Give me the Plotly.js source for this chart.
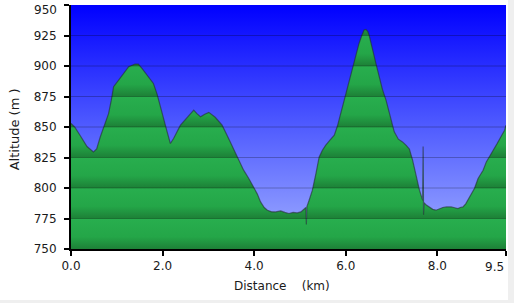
<!DOCTYPE html>
<html>
<head>
<meta charset="utf-8">
<script src="https://cdn.plot.ly/plotly-3.0.1.min.js"></script>
<style>
  html, body { margin: 0; padding: 0; background: #efefef; }
  #chart { width: 508px; height: 300px; background: #ffffff; }
</style>
</head>
<body>
<div id="chart"></div>
<script>
// ---- data ----
const distanceKm = [
  0.00, 0.08, 0.20, 0.35, 0.49, 0.56, 0.64, 0.72, 0.82, 0.88,
  0.93, 1.04, 1.15, 1.26, 1.40, 1.47, 1.55, 1.66, 1.80, 1.88,
  1.95, 2.02, 2.10, 2.17, 2.24, 2.39, 2.55, 2.68, 2.75, 2.83,
  2.92, 3.01, 3.15, 3.30, 3.45, 3.56, 3.67, 3.77, 3.88, 3.99,
  4.07, 4.14, 4.22, 4.29, 4.38, 4.47, 4.58, 4.67, 4.76, 4.85,
  4.94, 5.02, 5.09, 5.13, 5.14, 5.15, 5.20, 5.27, 5.35, 5.42,
  5.49, 5.56, 5.65, 5.75, 5.82, 5.89, 5.96, 6.04, 6.11, 6.18,
  6.24, 6.29, 6.35, 6.40, 6.44, 6.48, 6.51, 6.55, 6.59, 6.66,
  6.73, 6.80, 6.88, 6.97, 7.06, 7.15, 7.24, 7.32, 7.39, 7.46,
  7.54, 7.61, 7.68, 7.69, 7.70, 7.71, 7.76, 7.83, 7.90, 7.97,
  8.05, 8.12, 8.20, 8.30, 8.38, 8.45, 8.50, 8.56, 8.62, 8.67,
  8.74, 8.81, 8.89, 8.95, 9.00, 9.07, 9.15, 9.22, 9.30, 9.36,
  9.42, 9.47, 9.50
];
const altitudeM = [
  853, 850, 843, 834, 829.6, 832, 842, 850, 861, 872,
  883, 888.5, 894, 899.4, 901.6, 901.6, 898, 892.5, 885.7, 877,
  866.5, 857, 846, 836.5, 840.6, 851.5, 858, 863.8, 861, 858.3,
  860.5, 862, 858, 851.5, 840, 831, 822, 814.6, 808, 800.9,
  795, 788.6, 784, 781.8, 780.5, 780.4, 781.2, 780, 779.1, 780,
  779.6, 780.4, 783.2, 784, 770, 784.5, 790, 798, 812, 825.5,
  831, 835, 839, 843.3, 851, 861, 872, 883, 893, 902,
  910, 918.5, 925, 929.5, 930, 928.5, 925.4, 920, 913, 902,
  891, 881, 872, 858, 846, 840, 837.8, 835, 832, 822.8,
  809, 798.2, 790, 834, 778, 788, 786, 784.5, 782.5, 781.8,
  783, 784, 784.5, 784.5, 783.8, 783.2, 784, 784.5, 787, 790,
  795, 799.6, 807.8, 811, 814.6, 821.4, 826, 831, 836, 840.6,
  844, 847.4, 851.5
];
const xTickVals = [0, 2, 4, 6, 8, 9.5];
const xTickText = ["0.0", "2.0", "4.0", "6.0", "8.0", "9.5"];
const yTickVals = [750, 775, 800, 825, 850, 875, 900, 925, 950];
const yTickText = ["750", "775", "800", "825", "850", "875", "900", "925", "950"];
const xRange = [0, 9.5];
const yRange = [750, 950];
const xTitle = "Distance\u00a0\u00a0\u00a0\u00a0(km)";
const yTitle = "Altitude (m )";

// ---- styling helpers ----
const darkGreen = "rgb(29,128,55)";
const brightGreen = "rgb(36,166,72)";
const topGreen = "rgb(40,174,78)";
const nBands = yTickVals.length - 1;
const greenScale = [];
for (let k = 0; k < nBands; k++) {
  const p0 = k / nBands, w = 1 / nBands;
  greenScale.push([k === 0 ? 0 : p0 + 0.0005, darkGreen]);
  greenScale.push([p0 + 0.4 * w, brightGreen]);
  greenScale.push([p0 + w - 0.0005, topGreen]);
}
greenScale[greenScale.length - 1][0] = 1;

const bgTrace = {
  x: xRange, y: [yRange[1], yRange[1]],
  type: "scatter", mode: "none", fill: "tozeroy",
  fillgradient: {
    type: "vertical", start: yRange[0], stop: yRange[1],
    colorscale: [[0, "rgb(162,176,255)"], [0.5, "rgb(80,92,255)"], [1, "rgb(0,0,255)"]]
  },
  hoverinfo: "skip", showlegend: false
};

const profileTrace = {
  x: distanceKm, y: altitudeM,
  type: "scatter", mode: "lines", fill: "tozeroy",
  line: { color: "rgba(35,45,50,0.6)", width: 1.2 },
  fillgradient: { type: "vertical", start: yRange[0], stop: yRange[1], colorscale: greenScale },
  hoverinfo: "skip", showlegend: false
};

const gridShapes = yTickVals.slice(1, -1).map(v => ({
  type: "line", xref: "paper", x0: 0, x1: 1, yref: "y", y0: v, y1: v,
  line: { color: "rgba(0,0,0,0.25)", width: 1 }, layer: "above"
}));

const font = { family: "DejaVu Sans, Verdana, sans-serif", size: 12, color: "#1a1a1a" };

// edge tick labels are nudged inward (as in the reference), so they are drawn as annotations
const lastX = xTickVals.length - 1, lastY = yTickVals.length - 1;
const xTickTextAxis = xTickText.map((t, i) => i === lastX ? "" : t);
const yTickTextAxis = yTickText.map((t, i) => i === lastY ? "" : t);

const layout = {
  width: 508, height: 300,
  margin: { l: 71, r: 2, t: 5, b: 51 },
  paper_bgcolor: "#ffffff", plot_bgcolor: "rgba(0,0,0,0)",
  font: font,
  showlegend: false,
  xaxis: {
    range: xRange, tickvals: xTickVals, ticktext: xTickTextAxis,
    showgrid: false, zeroline: false,
    showline: true, linecolor: "#000", linewidth: 2,
    ticks: "outside", ticklen: 5, tickwidth: 2, tickcolor: "#000",
    layer: "above traces"
  },
  yaxis: {
    range: yRange, tickvals: yTickVals, ticktext: yTickTextAxis,
    showgrid: false, zeroline: false,
    showline: true, linecolor: "#000", linewidth: 2,
    ticks: "outside", ticklen: 5, tickwidth: 2, tickcolor: "#000",
    ticklabelstandoff: 5,
    layer: "above traces"
  },
  shapes: gridShapes,
  annotations: [
    { text: xTickText[lastX], xref: "x", yref: "paper", x: xTickVals[lastX], y: 0,
      xanchor: "right", yanchor: "top", yshift: -9, showarrow: false, font: font },
    { text: yTickText[lastY], xref: "paper", yref: "y", x: 0, y: yTickVals[lastY],
      xanchor: "right", yanchor: "middle", xshift: -12, yshift: -5, showarrow: false, font: font },
    { text: xTitle, xref: "paper", yref: "paper", x: 0.485, y: -0.152,
      xanchor: "center", yanchor: "middle", showarrow: false, font: font },
    { text: yTitle, xref: "paper", yref: "paper", x: -0.129, y: 0.49,
      xanchor: "center", yanchor: "middle", showarrow: false, textangle: -90,
      font: Object.assign({}, font, { size: 13 }) }
  ]
};

Plotly.newPlot("chart", [bgTrace, profileTrace], layout, { staticPlot: true, displayModeBar: false });
</script>
</body>
</html>
